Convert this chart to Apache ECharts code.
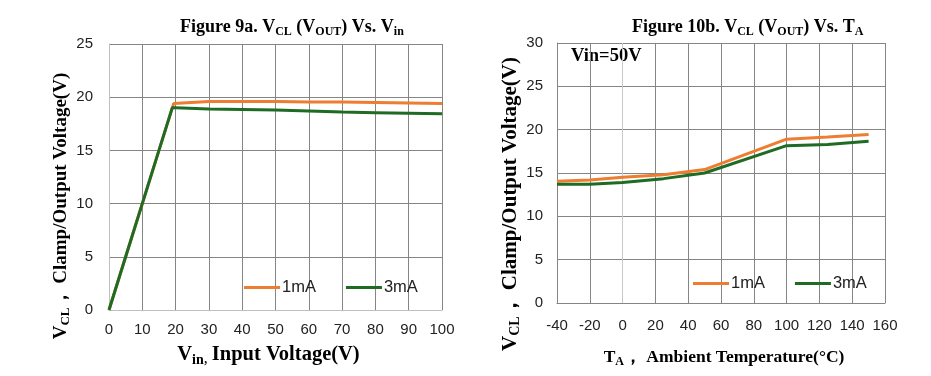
<!DOCTYPE html>
<html>
<head>
<meta charset="utf-8">
<script src="https://cdn.jsdelivr.net/npm/echarts@6/dist/echarts.min.js"></script>
<style>
  html, body { margin: 0; padding: 0; background: #fff; }
  #main { width: 931px; height: 376px; }
</style>
</head>
<body>
<div id="main"></div>
<script>
  // Figure 9a: VCL vs Vin
  let vin = [0, 5, 10, 15, 19.4, 20, 30, 40, 50, 60, 70, 80, 90, 100];
  let vcl1mA = [0, 5, 10, 15, 19.4, 19.4, 19.6, 19.6, 19.6, 19.55, 19.55, 19.5, 19.45, 19.4];
  let vin3 = [0, 5, 10, 15, 19, 20, 30, 40, 50, 60, 70, 80, 90, 100];
  let vcl3mA = [0, 5, 10, 15, 19, 19, 18.9, 18.85, 18.8, 18.7, 18.6, 18.55, 18.5, 18.45];

  // Figure 10b: VCL vs TA (Vin = 50V)
  let ta = [-40, -20, 0, 25, 50, 100, 125, 150];
  let ta1mA = [14.05, 14.2, 14.5, 14.8, 15.4, 18.9, 19.15, 19.45];
  let ta3mA = [13.7, 13.7, 13.9, 14.35, 15.0, 18.15, 18.3, 18.65];

  let seriesNames = ['1mA', '3mA'];

  function pairs(xs, ys) {
    return xs.map(function (x, i) { return [x, ys[i]]; });
  }

  let chart = echarts.init(document.getElementById('main'));

  let serif = '"Liberation Serif", "Times New Roman", serif';
  let sans = '"Liberation Sans", Arial, sans-serif';
  let gridColor = '#858585';
  let orange = '#ed7d31';
  let green = '#1e6b24';

  function richStyle(size) {
    return {
      m: { fontFamily: serif, fontWeight: 'bold', fontSize: size, lineHeight: 24, color: '#000' },
      s: { fontFamily: serif, fontWeight: 'bold', fontSize: Math.round(size * 0.68), lineHeight: 13, padding: [10, 0, 0, 0], color: '#000' }
    };
  }

  let option = {
    animation: false,
    backgroundColor: '#fff',
    title: [
      {
        left: 175,
        top: 10,
        text: '{m|Figure 9a. V}{s|CL}{m| (V}{s|OUT}{m|) Vs. V}{s|in}',
        textStyle: { rich: richStyle(18) }
      },
      {
        left: 627,
        top: 10,
        text: '{m|Figure 10b. V}{s|CL}{m| (V}{s|OUT}{m|) Vs. T}{s|A}',
        textStyle: { rich: richStyle(18) }
      }
    ],
    legend: [
      {
        left: 239,
        top: 274,
        icon: 'rect',
        itemWidth: 36,
        itemHeight: 3,
        itemGap: 30,
        data: seriesNames,
        textStyle: { fontFamily: sans, fontSize: 16.5, color: '#222', padding: [0, 0, 0, -3] }
      },
      {
        left: 688,
        top: 270,
        icon: 'rect',
        itemWidth: 36,
        itemHeight: 3,
        itemGap: 30,
        data: seriesNames,
        textStyle: { fontFamily: sans, fontSize: 16.5, color: '#222', padding: [0, 0, 0, -3] }
      }
    ],
    graphic: [
      {
        type: 'text',
        left: 571,
        top: 47,
        style: { text: 'Vin=50V', font: 'bold 18.5px ' + serif, fill: '#000' }
      }
    ],
    grid: [
      { left: 109, right: 489, top: 44, bottom: 66 },
      { left: 557, right: 46, top: 43, bottom: 73 }
    ],
    xAxis: [
      {
        gridIndex: 0,
        type: 'value',
        min: 0,
        max: 100,
        interval: 10,
        name: '{b|V}{s|in}{s2|, }{b|Input Voltage(V)}',
        nameLocation: 'middle',
        nameGap: 33,
        nameTextStyle: {
          padding: [0, 14, 0, 0],
          rich: {
            b: { fontFamily: serif, fontWeight: 'bold', fontSize: 20.5, lineHeight: 24, color: '#000' },
            s: { fontFamily: serif, fontWeight: 'bold', fontSize: 14, lineHeight: 14, padding: [10, 0, 0, 0], color: '#000' },
            s2: { fontFamily: serif, fontSize: 16, lineHeight: 16, padding: [8, 0, 0, 0], color: '#000' }
          }
        },
        axisLine: { lineStyle: { color: '#c0c0c0', width: 1 } },
        axisTick: { show: false },
        axisLabel: { margin: 12, fontFamily: sans, fontSize: 15, color: '#222' },
        splitLine: { show: true, lineStyle: { color: gridColor, width: 1 } }
      },
      {
        gridIndex: 1,
        type: 'value',
        min: -40,
        max: 160,
        interval: 20,
        name: '{b|T}{s|A}{b|， Ambient Temperature(°C)}',
        nameLocation: 'middle',
        nameGap: 42,
        nameTextStyle: {
          padding: [0, 0, 0, 6],
          rich: {
            b: { fontFamily: serif, fontWeight: 'bold', fontSize: 17.5, lineHeight: 24, color: '#000' },
            s: { fontFamily: serif, fontWeight: 'bold', fontSize: 12, lineHeight: 14, padding: [10, 0, 0, 0], color: '#000' }
          }
        },
        axisLine: { lineStyle: { color: gridColor, width: 1 } },
        axisTick: { show: false },
        axisLabel: { margin: 15, fontFamily: sans, fontSize: 15, color: '#222' },
        splitLine: {
          show: true,
          lineStyle: {
            color: [gridColor, gridColor, '#c8c8c8', gridColor, gridColor, gridColor, gridColor, gridColor, gridColor, gridColor, gridColor],
            width: 1
          }
        }
      }
    ],
    yAxis: [
      {
        gridIndex: 0,
        type: 'value',
        min: 0,
        max: 25,
        interval: 5,
        name: '{m|V}{s|CL}{m|， Clamp/Output Voltage(V)}',
        nameLocation: 'middle',
        nameRotate: 90,
        nameGap: 33,
        nameTextStyle: {
          padding: [0, 58, 0, 0],
          rich: richStyle(19)
        },
        axisLine: { show: true, lineStyle: { color: '#c0c0c0', width: 1 } },
        axisTick: { show: false },
        axisLabel: { margin: 16, fontFamily: sans, fontSize: 15, color: '#222' },
        splitLine: { show: true, lineStyle: { color: gridColor, width: 1 } }
      },
      {
        gridIndex: 1,
        type: 'value',
        min: 0,
        max: 30,
        interval: 5,
        name: '{m|V}{s|CL}{m|， Clamp/Output Voltage(V)}',
        nameLocation: 'middle',
        nameRotate: 90,
        nameGap: 20,
        nameTextStyle: {
          padding: [0, 62, 0, 0],
          rich: richStyle(21)
        },
        axisLine: { show: true, onZero: false, lineStyle: { color: gridColor, width: 1 } },
        axisTick: { show: false },
        axisLabel: { margin: 14, fontFamily: sans, fontSize: 15, color: '#222' },
        splitLine: { show: true, lineStyle: { color: gridColor, width: 1 } }
      }
    ],
    series: [
      {
        name: '1mA',
        type: 'line',
        xAxisIndex: 0,
        yAxisIndex: 0,
        data: pairs(vin, vcl1mA),
        showSymbol: false,
        lineStyle: { color: orange, width: 3 },
        itemStyle: { color: orange },
        z: 3
      },
      {
        name: '3mA',
        type: 'line',
        xAxisIndex: 0,
        yAxisIndex: 0,
        data: pairs(vin3, vcl3mA),
        showSymbol: false,
        lineStyle: { color: green, width: 3 },
        itemStyle: { color: green },
        z: 4
      },
      {
        name: '1mA',
        type: 'line',
        xAxisIndex: 1,
        yAxisIndex: 1,
        data: pairs(ta, ta1mA),
        showSymbol: false,
        lineStyle: { color: orange, width: 3 },
        itemStyle: { color: orange }
      },
      {
        name: '3mA',
        type: 'line',
        xAxisIndex: 1,
        yAxisIndex: 1,
        data: pairs(ta, ta3mA),
        showSymbol: false,
        lineStyle: { color: green, width: 3 },
        itemStyle: { color: green }
      }
    ]
  };

  chart.setOption(option);
</script>
</body>
</html>
